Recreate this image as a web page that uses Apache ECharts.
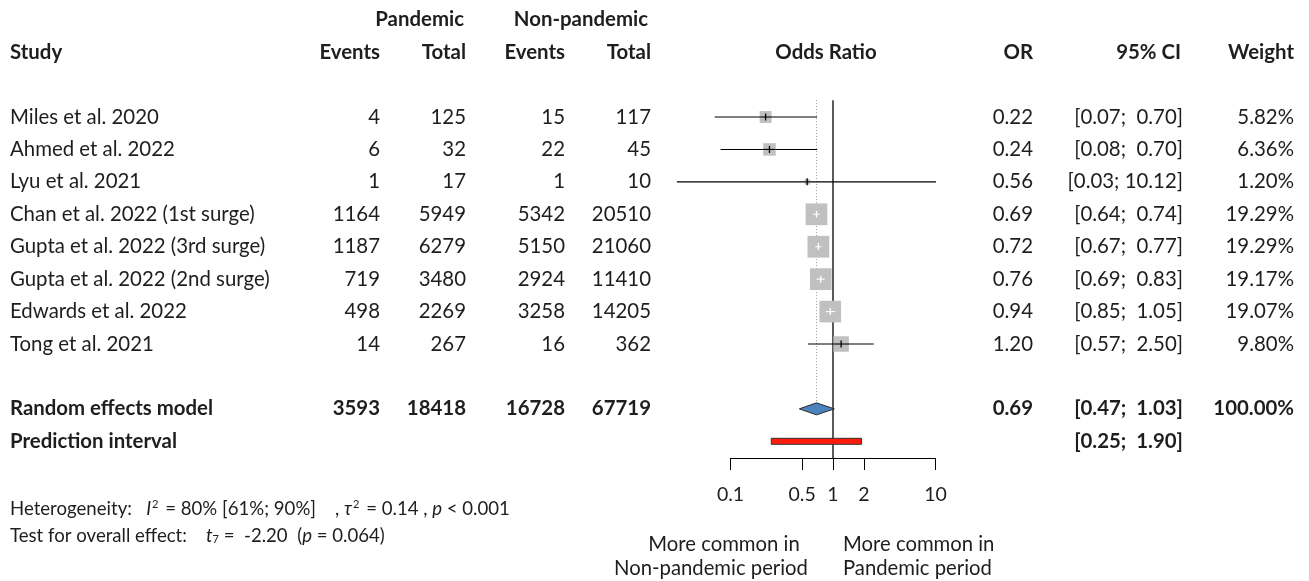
<!DOCTYPE html>
<html><head><meta charset="utf-8">
<script src="https://cdn.jsdelivr.net/npm/echarts@6/dist/echarts.min.js"></script>
<style>html,body{margin:0;padding:0;background:#fff}#c{width:1309px;height:581px}</style>
</head><body><div id="c"></div>
<script>
// ---------- data ----------
const studies = ['Miles et al. 2020','Ahmed et al. 2022','Lyu et al. 2021','Chan et al. 2022 (1st surge)','Gupta et al. 2022 (3rd surge)','Gupta et al. 2022 (2nd surge)','Edwards et al. 2022','Tong et al. 2021'];
const pandEvents = [4, 6, 1, 1164, 1187, 719, 498, 14];
const pandTotal = [125, 32, 17, 5949, 6279, 3480, 2269, 267];
const nonEvents = [15, 22, 1, 5342, 5150, 2924, 3258, 16];
const nonTotal = [117, 45, 10, 20510, 21060, 11410, 14205, 362];
const orVals = [0.22, 0.24, 0.56, 0.69, 0.72, 0.76, 0.94, 1.20];
const ciLow = [0.07, 0.08, 0.03, 0.64, 0.67, 0.69, 0.85, 0.57];
const ciHigh = [0.70, 0.70, 10.12, 0.74, 0.77, 0.83, 1.05, 2.50];
const weights = [5.82, 6.36, 1.20, 19.29, 19.29, 19.17, 19.07, 9.80];
const pooledLabel = 'Random effects model';
const pooledTotals = [3593, 18418, 16728, 67719];
const pooledOR = 0.69;
const pooledCI = [0.47, 1.03];
const pooledWeight = 100.00;
const predLabel = 'Prediction interval';
const predCI = [0.25, 1.90];
const xTicks = [0.1, 0.5, 1, 2, 10];

// ---------- layout ----------
const W = 1309, H = 581, ROW0 = 117, ROWH = 32.43, AXY = 458;
const FONT = 'Lato';
const FS = 20.4;
const TXT = '#1e1e1e';
const yMin = -ROW0 / ROWH, yMaxT = (H - ROW0) / ROWH, yMaxF = (AXY - ROW0) / ROWH;
const studyRows = studies.map((s, i) => i);
const POOL_ROW = 9, PRED_ROW = 10, HEAD1 = -3, HEAD2 = -2, TOPLINE = -0.52;
const SQ = 4.95;

const chart = echarts.init(document.getElementById('c'));

function textCol(x, align, rows, texts, bold, size) {
  return {
    type: 'custom', xAxisIndex: 0, yAxisIndex: 0, silent: true, clip: false,
    data: rows.map(r => [x, r]),
    renderItem: (params, api) => {
      const p = api.coord([api.value(0), api.value(1)]);
      return { type: 'text', x: p[0], y: p[1], style: {
        text: String(texts[params.dataIndex]), fill: TXT,
        fontFamily: FONT, fontSize: size || FS, fontWeight: bold ? 'bold' : 'normal',
        align: align, verticalAlign: 'middle' } };
    }
  };
}
const f2 = v => v.toFixed(2);
const ciText = (lo, hi) => '[' + f2(lo) + '; ' + (hi < 10 ? ' ' : '') + f2(hi) + ']';
const series = [];
// headers
series.push(textCol(464, 'right', [HEAD1], ['Pandemic'], true));
series.push(textCol(648, 'right', [HEAD1], ['Non-pandemic'], true));
series.push(textCol(10, 'left', [HEAD2], ['Study'], true));
series.push(textCol(380, 'right', [HEAD2], ['Events'], true));
series.push(textCol(466, 'right', [HEAD2], ['Total'], true));
series.push(textCol(565, 'right', [HEAD2], ['Events'], true));
series.push(textCol(651, 'right', [HEAD2], ['Total'], true));
series.push(textCol(826, 'center', [HEAD2], ['Odds Ratio'], true));
series.push(textCol(1033, 'right', [HEAD2], ['OR'], true));
series.push(textCol(1181, 'right', [HEAD2], ['95% CI'], true));
series.push(textCol(1294, 'right', [HEAD2], ['Weight'], true));
// study rows
series.push(textCol(10, 'left', studyRows, studies, false));
series.push(textCol(380, 'right', studyRows, pandEvents, false));
series.push(textCol(466, 'right', studyRows, pandTotal, false));
series.push(textCol(565, 'right', studyRows, nonEvents, false));
series.push(textCol(651, 'right', studyRows, nonTotal, false));
series.push(textCol(1033, 'right', studyRows, orVals.map(f2), false));
series.push(textCol(1183, 'right', studyRows, ciLow.map((v, i) => ciText(v, ciHigh[i])), false));
series.push(textCol(1294, 'right', studyRows, weights.map(v => f2(v) + '%'), false));
// pooled rows
series.push(textCol(10, 'left', [POOL_ROW, PRED_ROW], [pooledLabel, predLabel], true));
[380, 466, 565, 651].forEach((x, k) => series.push(textCol(x, 'right', [POOL_ROW], [pooledTotals[k]], true)));
series.push(textCol(1033, 'right', [POOL_ROW], [f2(pooledOR)], true));
series.push(textCol(1183, 'right', [POOL_ROW, PRED_ROW], [ciText(pooledCI[0], pooledCI[1]), ciText(predCI[0], predCI[1])], true));
series.push(textCol(1294, 'right', [POOL_ROW], [f2(pooledWeight) + '%'], true));

// reference lines (line of no effect, pooled estimate)
series.push({
  type: 'custom', xAxisIndex: 1, yAxisIndex: 1, silent: true, clip: false, z: 1,
  data: [[1, TOPLINE, yMaxF, 0], [pooledOR, TOPLINE, POOL_ROW, 1]],
  renderItem: (params, api) => {
    const a = api.coord([api.value(0), api.value(1)]);
    const b = api.coord([api.value(0), api.value(2)]);
    const dotted = api.value(3) === 1;
    return { type: 'line', shape: { x1: a[0], y1: a[1], x2: b[0], y2: dotted ? b[1] - 6 : b[1] },
      style: dotted ? { stroke: '#9a9a9a', lineWidth: 1, lineDash: [1, 2] } : { stroke: '#000', lineWidth: 1.3 } };
  }
});
// study markers
series.push({
  type: 'custom', xAxisIndex: 1, yAxisIndex: 1, silent: true, clip: false, z: 3,
  data: orVals.map((v, i) => [v, i, ciLow[i], ciHigh[i], weights[i]]),
  renderItem: (params, api) => {
    const c = api.coord([api.value(0), api.value(1)]);
    const lo = api.coord([api.value(2), api.value(1)])[0];
    const hi = api.coord([api.value(3), api.value(1)])[0];
    const s = SQ * Math.sqrt(api.value(4));
    const l = c[0] - s / 2, r = c[0] + s / 2;
    const inside = lo >= l && hi <= r;
    const lc = inside ? '#fff' : '#000';
    const ch = [
      { type: 'line', shape: { x1: lo, y1: c[1], x2: hi, y2: c[1] }, style: { stroke: '#000', lineWidth: 1.1 } },
      { type: 'rect', shape: { x: l, y: c[1] - s / 2, width: s, height: s }, style: { fill: '#c0c0c0' } },
      { type: 'line', shape: { x1: Math.max(lo, l), y1: c[1], x2: Math.min(hi, r), y2: c[1] }, style: { stroke: lc, lineWidth: 1.1 } },
      { type: 'line', shape: { x1: c[0], y1: c[1] - 3.5, x2: c[0], y2: c[1] + 3.5 }, style: { stroke: lc, lineWidth: 1.3 } }
    ];
    return { type: 'group', children: ch };
  }
});
// pooled diamond and prediction interval
series.push({
  type: 'custom', xAxisIndex: 1, yAxisIndex: 1, silent: true, clip: false, z: 4,
  data: [[pooledOR, POOL_ROW, pooledCI[0], pooledCI[1], 0], [(predCI[0] + predCI[1]) / 2, PRED_ROW, predCI[0], predCI[1], 1]],
  renderItem: (params, api) => {
    const c = api.coord([api.value(0), api.value(1)]);
    const lo = api.coord([api.value(2), api.value(1)])[0];
    const hi = api.coord([api.value(3), api.value(1)])[0];
    if (api.value(4) === 0) {
      return { type: 'polygon', shape: { points: [[lo, c[1]], [c[0], c[1] - 6], [hi, c[1]], [c[0], c[1] + 6]] },
        style: { fill: '#4a83bf', stroke: '#2a2a2a', lineWidth: 1 } };
    }
    return { type: 'rect', shape: { x: lo, y: c[1] - 3, width: hi - lo, height: 6 },
      style: { fill: '#ff1a0a', stroke: '#333', lineWidth: 1 } };
  }
});

const SF = 18.6;
const option = {
  animation: false,
  backgroundColor: '#fff',
  textStyle: { fontFamily: FONT },
  grid: [
    { left: 0, top: 0, width: W, height: H },
    { left: 730.5, top: 0, width: 205, height: AXY }
  ],
  xAxis: [
    { type: 'value', gridIndex: 0, min: 0, max: W, show: false },
    { type: 'log', gridIndex: 1, logBase: 10, min: 0.1, max: 10, position: 'bottom',
      axisLine: { show: true, onZero: false, lineStyle: { color: '#000', width: 1 } },
      axisTick: { show: true, length: 12, inside: false, customValues: xTicks, lineStyle: { color: '#000', width: 1 } },
      axisLabel: { show: true, customValues: xTicks, margin: 27, fontSize: 19.5, fontFamily: FONT, color: TXT,
        formatter: v => String(v) },
      splitLine: { show: false }, minorTick: { show: false } }
  ],
  yAxis: [
    { type: 'value', gridIndex: 0, min: yMin, max: yMaxT, inverse: true, show: false },
    { type: 'value', gridIndex: 1, min: yMin, max: yMaxF, inverse: true, show: false }
  ],
  series: series,
  graphic: [
    { type: 'text', left: 10, top: 499, style: {
      text: 'Heterogeneity:   {i|I}{s|2} = 80% [61%; 90%]    , {i|τ}{s|2} = 0.14 , {i|p} < 0.001',
      fontFamily: FONT, fontSize: SF, fill: TXT,
      rich: { i: { fontStyle: 'italic', fontSize: SF, fontFamily: FONT, fill: TXT },
              s: { fontSize: 11, fontFamily: FONT, fill: TXT, verticalAlign: 'top', padding: [0, 2, 7, 1] } } } },
    { type: 'text', left: 10, top: 526, style: {
      text: 'Test for overall effect:    {i|t}{b|7} =  -2.20  ({i|p} = 0.064)',
      fontFamily: FONT, fontSize: SF, fill: TXT,
      rich: { i: { fontStyle: 'italic', fontSize: SF, fontFamily: FONT, fill: TXT },
              b: { fontSize: 11, fontFamily: FONT, fill: TXT, padding: [7, 0, 0, 0] } } } },
    { type: 'text', x: 724, y: 544, style: { text: 'More common in', align: 'center', verticalAlign: 'middle', fontFamily: FONT, fontSize: 20.3, fill: TXT } },
    { type: 'text', x: 711, y: 568, style: { text: 'Non-pandemic period', align: 'center', verticalAlign: 'middle', fontFamily: FONT, fontSize: 20.3, fill: TXT } },
    { type: 'text', x: 843, y: 544, style: { text: 'More common in', align: 'left', verticalAlign: 'middle', fontFamily: FONT, fontSize: 20.3, fill: TXT } },
    { type: 'text', x: 843, y: 568, style: { text: 'Pandemic period', align: 'left', verticalAlign: 'middle', fontFamily: FONT, fontSize: 20.3, fill: TXT } }
  ]
};
chart.setOption(option);
</script></body></html>
